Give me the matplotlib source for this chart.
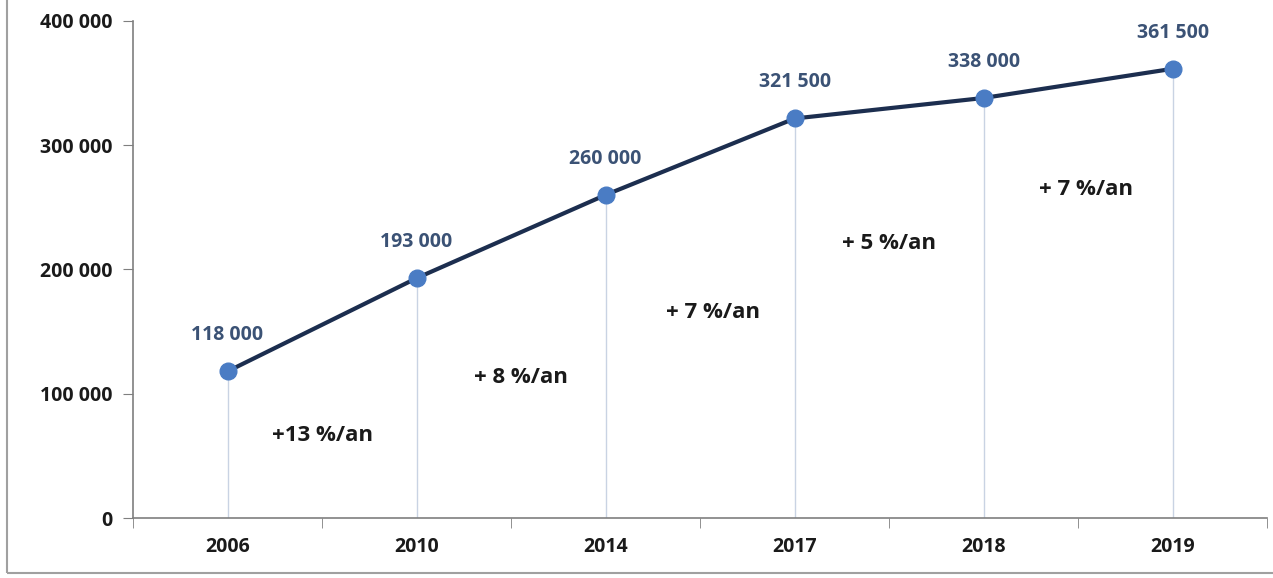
import matplotlib.pyplot as plt
from matplotlib.patches import Rectangle

years = ['2006', '2010', '2014', '2017', '2018', '2019']
values = [118000, 193000, 260000, 321500, 338000, 361500]
value_labels = ['118 000', '193 000', '260 000', '321 500', '338 000', '361 500']
growth_labels = ['+13 %/an', '+ 8 %/an', '+ 7 %/an', '+ 5 %/an', '+ 7 %/an']
growth_x = [0.5, 1.55, 2.57, 3.5, 4.54]
growth_y = [66000, 113000, 165000, 221000, 264000]
y_ticks = [0, 100000, 200000, 300000, 400000]
y_tick_labels = ['0', '100 000', '200 000', '300 000', '400 000']

plt.rcParams['font.family'] = ['Open Sans', 'DejaVu Sans']

fig = plt.figure(figsize=(12.73, 5.78), dpi=100)
ax = fig.add_axes([0.1045, 0.1038, 0.891, 0.86])

x = list(range(len(years)))

# thin drop lines from each point to the axis
ax.vlines(x, 0, values, color='#c9d3e3', linewidth=1, zorder=1)
ax.plot(x, values, color='#1c2e4f', linewidth=3, marker='o',
        markersize=12, markerfacecolor='#4a7cc4', markeredgecolor='#4a7cc4',
        zorder=3, clip_on=False)

for xi, v, lab in zip(x, values, value_labels):
    ax.annotate(lab, (xi, v), xytext=(0, 26), textcoords='offset points',
                ha='center', va='center', fontsize=14, fontweight='bold',
                color='#3b5275')

for gx, gy, lab in zip(growth_x, growth_y, growth_labels):
    ax.text(gx, gy, lab, ha='center', va='center', fontsize=16,
            fontweight='bold', color='#1a1a1a')

ax.set_xlim(-0.5, len(years) - 0.5)
ax.set_ylim(0, 400000)
ax.set_yticks(y_ticks)
ax.set_yticklabels(y_tick_labels, fontsize=14, fontweight='bold', color='#1a1a1a')
ax.set_xticks(x)
ax.set_xticklabels(years, fontsize=14, fontweight='bold', color='#1a1a1a')
ax.set_xticks([i - 0.5 for i in range(len(years) + 1)], minor=True)
ax.tick_params(axis='x', which='major', length=0, pad=14)
ax.tick_params(axis='x', which='minor', length=7, color='#7f7f7f', direction='out')
ax.tick_params(axis='y', length=7, color='#7f7f7f', direction='out', pad=8)

for side in ['top', 'right']:
    ax.spines[side].set_visible(False)
for side in ['left', 'bottom']:
    ax.spines[side].set_color('#7f7f7f')
    ax.spines[side].set_linewidth(1.2)

# outer frame of the original picture (left and bottom edges)
fig.add_artist(Rectangle((0.0055, 0.008), 1.2, 1.2, transform=fig.transFigure,
                         fill=False, edgecolor='#a0a0a0', linewidth=1.5))

fig.savefig('out.png', dpi=100)
